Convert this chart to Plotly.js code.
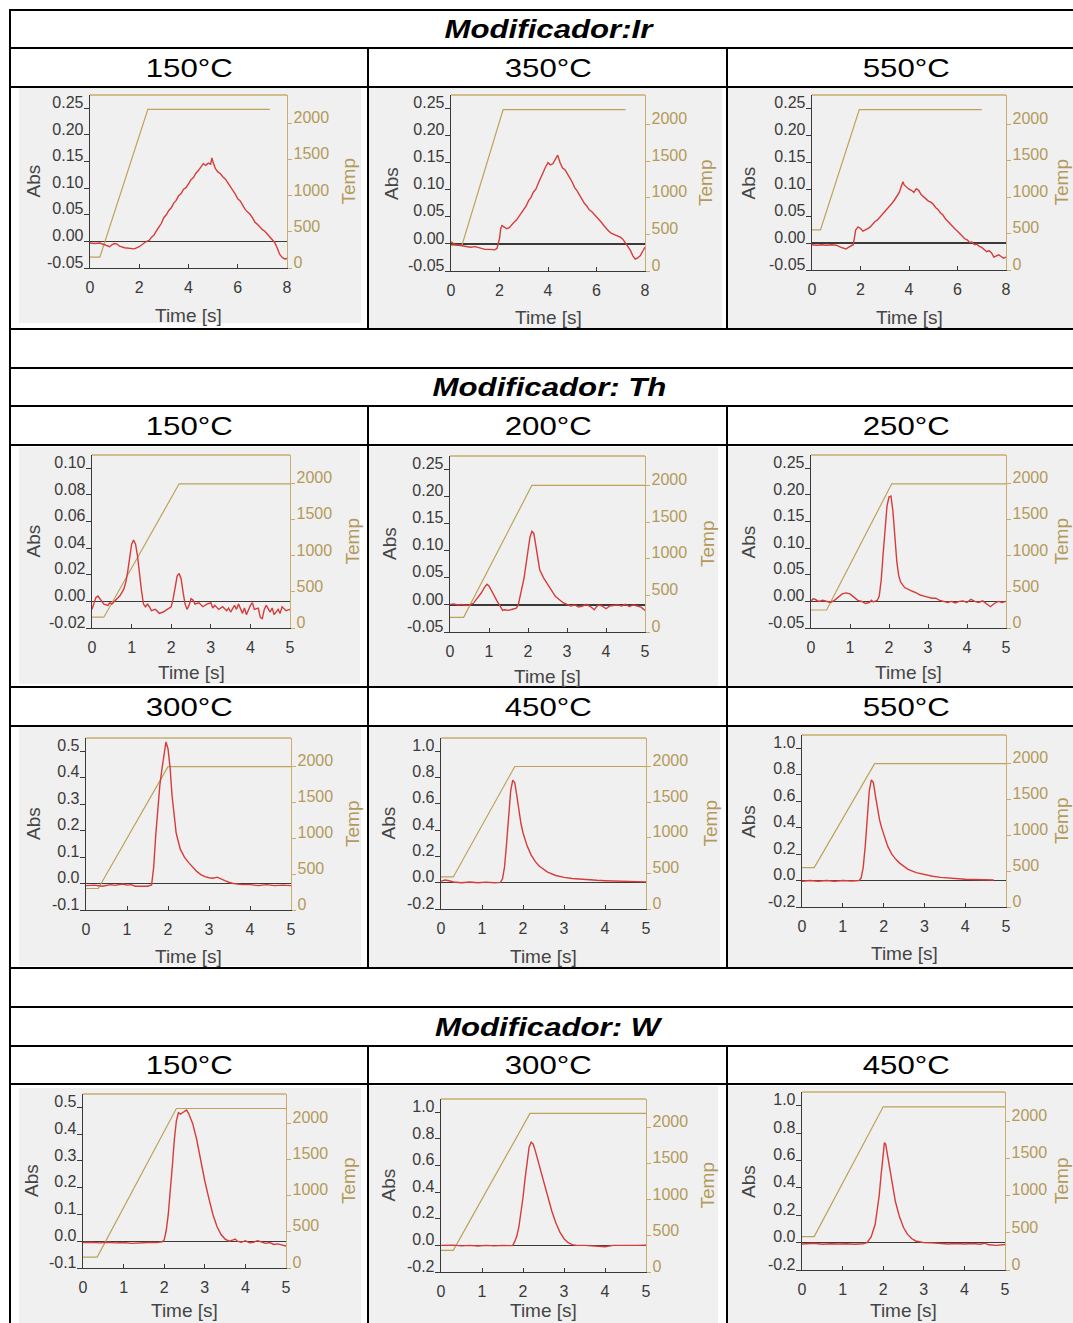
<!DOCTYPE html>
<html>
<head>
<meta charset="utf-8">
<script src="https://cdn.plot.ly/plotly-3.0.1.min.js"></script>
<style>
  html, body { margin: 0; padding: 0; background: #ffffff; }
  #chart { width: 1073px; height: 1323px; }
</style>
</head>
<body>
<div id="chart"></div>
<script>
// ---------- Absorbance signals (time in s, absorbance) ----------
// Modificador: Ir
const IR150_TIME = [0,0.2,0.4,0.6,0.8,0.9,1.0,1.1,1.2,1.4,1.6,1.8,2.0,2.1,2.2,2.3,2.4,2.5,2.6,2.7,2.8,2.9,3.0,3.1,3.2,3.3,3.4,3.5,3.6,3.7,3.8,3.9,4.0,4.1,4.2,4.3,4.4,4.5,4.6,4.7,4.8,4.9,4.95,5.0,5.1,5.2,5.3,5.4,5.5,5.6,5.7,5.8,5.9,6.0,6.1,6.2,6.3,6.4,6.5,6.6,6.7,6.8,6.9,7.0,7.1,7.2,7.3,7.4,7.5,7.6,7.7,7.8,7.9,8.0];
const IR150_ABS = [-0.003,-0.004,-0.003,-0.006,-0.010,-0.006,-0.004,-0.005,-0.009,-0.012,-0.013,-0.014,-0.010,-0.006,-0.003,0.000,0.002,0.008,0.012,0.020,0.028,0.034,0.045,0.050,0.058,0.063,0.072,0.077,0.086,0.090,0.098,0.101,0.108,0.116,0.120,0.128,0.133,0.140,0.146,0.143,0.147,0.145,0.157,0.148,0.136,0.130,0.127,0.121,0.117,0.110,0.104,0.096,0.089,0.080,0.076,0.068,0.060,0.055,0.051,0.044,0.036,0.032,0.026,0.022,0.019,0.014,0.008,0.004,-0.002,-0.012,-0.024,-0.030,-0.033,-0.032];
const IR350_TIME = [0,0.2,0.4,0.6,0.8,1.0,1.2,1.4,1.6,1.8,1.9,2.0,2.05,2.1,2.2,2.3,2.4,2.5,2.6,2.7,2.8,2.9,3.0,3.1,3.2,3.3,3.4,3.5,3.6,3.7,3.8,3.9,4.0,4.1,4.2,4.3,4.4,4.5,4.6,4.7,4.8,4.9,5.0,5.1,5.2,5.3,5.4,5.5,5.6,5.7,5.8,5.9,6.0,6.1,6.2,6.3,6.4,6.5,6.6,6.7,6.8,6.9,7.0,7.1,7.2,7.3,7.4,7.5,7.6,7.7,7.8,7.9,8.0];
const IR350_ABS = [0.004,-0.002,-0.003,-0.004,-0.006,-0.005,-0.007,-0.010,-0.010,-0.011,-0.008,0.010,0.028,0.034,0.031,0.028,0.030,0.036,0.040,0.044,0.050,0.058,0.064,0.070,0.080,0.086,0.096,0.101,0.112,0.122,0.135,0.142,0.150,0.146,0.148,0.155,0.164,0.150,0.140,0.137,0.128,0.122,0.114,0.104,0.098,0.090,0.084,0.075,0.070,0.063,0.060,0.055,0.052,0.046,0.040,0.034,0.028,0.024,0.020,0.018,0.016,0.014,0.012,0.008,0.002,-0.004,-0.012,-0.022,-0.028,-0.026,-0.022,-0.014,-0.006];
const IR550_TIME = [0,0.2,0.4,0.6,0.8,1.0,1.2,1.3,1.4,1.5,1.6,1.7,1.75,1.8,1.9,2.0,2.1,2.2,2.3,2.4,2.5,2.6,2.7,2.8,2.9,3.0,3.1,3.2,3.3,3.4,3.5,3.6,3.7,3.75,3.8,3.9,4.0,4.1,4.2,4.3,4.4,4.5,4.6,4.7,4.8,4.9,5.0,5.1,5.2,5.3,5.4,5.5,5.6,5.7,5.8,5.9,6.0,6.1,6.2,6.3,6.4,6.5,6.6,6.7,6.8,6.9,7.0,7.1,7.2,7.3,7.4,7.5,7.6,7.7,7.8,7.85,7.9,8.0];
const IR550_ABS = [-0.003,-0.004,-0.003,-0.004,-0.003,-0.004,-0.008,-0.010,-0.011,-0.008,-0.006,-0.003,0.010,0.024,0.030,0.027,0.022,0.024,0.027,0.030,0.036,0.040,0.043,0.048,0.055,0.060,0.064,0.070,0.074,0.080,0.086,0.094,0.108,0.114,0.108,0.104,0.100,0.098,0.094,0.101,0.098,0.090,0.086,0.083,0.078,0.076,0.072,0.066,0.062,0.056,0.052,0.045,0.040,0.034,0.030,0.026,0.022,0.017,0.014,0.008,0.006,0.001,0.002,-0.003,-0.002,-0.006,-0.008,-0.012,-0.016,-0.014,-0.018,-0.026,-0.024,-0.022,-0.025,-0.026,-0.028,-0.026];

// Modificador: Th
const TH150_TIME = [0,0.05,0.1,0.15,0.2,0.3,0.4,0.45,0.5,0.6,0.7,0.8,0.85,0.9,0.95,1.0,1.05,1.1,1.15,1.2,1.25,1.3,1.35,1.4,1.45,1.5,1.6,1.7,1.8,1.9,2.0,2.05,2.1,2.15,2.2,2.25,2.3,2.35,2.4,2.45,2.5,2.55,2.6,2.7,2.8,2.9,3.0,3.05,3.1,3.2,3.3,3.4,3.45,3.5,3.6,3.65,3.7,3.8,3.85,3.9,4.0,4.05,4.1,4.2,4.25,4.3,4.35,4.4,4.5,4.55,4.6,4.7,4.75,4.8,4.9,5.0];
const TH150_ABS = [-0.006,-0.002,0.003,0.004,0.002,-0.002,-0.003,-0.001,-0.002,0.001,0.004,0.009,0.014,0.022,0.034,0.043,0.046,0.043,0.034,0.020,0.008,-0.002,-0.004,-0.002,-0.004,-0.007,-0.006,-0.009,-0.008,-0.006,-0.004,0.002,0.011,0.019,0.021,0.017,0.007,-0.002,-0.006,-0.003,0.002,0.001,-0.002,-0.001,-0.004,-0.002,-0.001,-0.005,-0.003,-0.006,-0.004,-0.007,-0.005,-0.008,-0.003,-0.006,-0.002,-0.009,-0.005,-0.010,-0.003,-0.001,-0.006,-0.005,-0.012,-0.013,-0.006,-0.003,-0.008,-0.005,-0.010,-0.006,-0.009,-0.004,-0.007,-0.006];
const TH200_TIME = [0,0.1,0.2,0.3,0.4,0.5,0.6,0.7,0.8,0.9,0.95,1.0,1.05,1.1,1.2,1.3,1.35,1.4,1.5,1.6,1.7,1.75,1.8,1.9,2.0,2.05,2.1,2.15,2.2,2.25,2.3,2.4,2.5,2.6,2.7,2.8,2.9,3.0,3.1,3.2,3.3,3.4,3.5,3.6,3.7,3.75,3.8,3.9,4.0,4.1,4.2,4.3,4.4,4.5,4.6,4.7,4.8,4.9,5.0];
const TH200_ABS = [0.001,0.002,0.0,0.001,-0.001,0.0,0.003,0.012,0.022,0.034,0.038,0.035,0.028,0.020,0.008,-0.004,-0.010,-0.009,-0.010,-0.008,-0.006,0.0,0.015,0.050,0.100,0.125,0.136,0.132,0.110,0.085,0.065,0.050,0.038,0.026,0.016,0.010,0.004,0.001,-0.002,0.0,-0.004,-0.002,0.001,-0.003,-0.009,-0.004,0.0,-0.002,-0.007,-0.002,-0.001,0.0,-0.002,0.001,-0.003,0.0,-0.002,-0.004,-0.010];
const TH250_TIME = [0,0.05,0.1,0.2,0.3,0.4,0.5,0.6,0.7,0.8,0.9,1.0,1.1,1.2,1.3,1.4,1.5,1.55,1.6,1.7,1.75,1.8,1.85,1.9,1.95,2.0,2.05,2.1,2.15,2.2,2.25,2.3,2.4,2.5,2.6,2.7,2.8,2.9,3.0,3.1,3.2,3.3,3.4,3.5,3.6,3.7,3.8,3.9,4.0,4.1,4.2,4.3,4.4,4.5,4.6,4.7,4.8,4.9,5.0];
const TH250_ABS = [0.0,0.005,0.004,0.0,0.002,0.0,-0.002,0.002,0.008,0.014,0.016,0.014,0.008,0.002,0.0,-0.004,-0.002,0.002,-0.001,0.002,0.010,0.040,0.090,0.140,0.180,0.196,0.198,0.170,0.120,0.075,0.048,0.036,0.026,0.022,0.019,0.016,0.012,0.010,0.008,0.006,0.006,0.002,0.0,-0.002,0.0,-0.003,0.0,0.001,-0.002,0.004,0.0,-0.002,0.001,-0.004,-0.010,-0.004,0.0,-0.002,0.0];
const TH300_TIME = [0,0.2,0.4,0.5,0.6,0.7,0.8,0.9,1.0,1.1,1.2,1.3,1.4,1.5,1.6,1.65,1.7,1.75,1.8,1.85,1.9,1.95,2.0,2.05,2.1,2.15,2.2,2.3,2.4,2.5,2.6,2.7,2.8,2.9,3.0,3.1,3.2,3.3,3.4,3.5,3.6,3.8,4.0,4.2,4.4,4.6,4.8,5.0];
const TH300_ABS = [-0.008,-0.006,-0.010,-0.006,-0.004,-0.007,-0.005,-0.002,-0.006,-0.004,-0.010,-0.010,-0.009,-0.010,-0.005,0.060,0.180,0.290,0.370,0.430,0.490,0.535,0.510,0.440,0.330,0.250,0.190,0.130,0.100,0.080,0.062,0.046,0.034,0.026,0.022,0.020,0.024,0.016,0.010,0.004,0.000,-0.004,-0.004,-0.008,-0.004,-0.008,-0.006,-0.008];
const TH450_TIME = [0,0.1,0.2,0.3,0.5,0.7,0.9,1.1,1.3,1.45,1.5,1.55,1.6,1.65,1.7,1.75,1.8,1.85,1.9,1.95,2.0,2.1,2.2,2.3,2.4,2.5,2.6,2.8,3.0,3.2,3.4,3.6,3.8,4.0,4.2,4.4,4.6,4.8,5.0];
const TH450_ABS = [0.012,0.020,0.015,0.005,0.000,0.005,0.000,0.004,0.000,0.002,0.030,0.120,0.300,0.520,0.700,0.780,0.760,0.660,0.540,0.450,0.380,0.280,0.210,0.160,0.125,0.100,0.080,0.055,0.040,0.032,0.026,0.022,0.018,0.015,0.012,0.010,0.008,0.008,0.006];
const TH550_TIME = [0,0.2,0.4,0.6,0.8,1.0,1.2,1.4,1.45,1.5,1.55,1.6,1.65,1.7,1.75,1.8,1.85,1.9,1.95,2.0,2.1,2.2,2.3,2.4,2.5,2.6,2.8,3.0,3.2,3.4,3.6,3.8,4.0,4.2,4.4,4.7];
const TH550_ABS = [-0.005,0.000,-0.005,0.000,-0.005,0.000,-0.004,0.000,0.020,0.100,0.260,0.480,0.680,0.760,0.740,0.640,0.540,0.460,0.400,0.350,0.260,0.200,0.160,0.130,0.105,0.085,0.060,0.045,0.032,0.024,0.018,0.014,0.010,0.008,0.005,0.004];

// Modificador: W
const W150_TIME = [0,0.2,0.4,0.6,0.8,1.0,1.2,1.4,1.6,1.8,1.95,2.0,2.05,2.1,2.15,2.2,2.25,2.3,2.35,2.4,2.45,2.5,2.55,2.6,2.7,2.8,2.9,3.0,3.1,3.2,3.3,3.4,3.5,3.6,3.7,3.75,3.8,3.9,4.0,4.1,4.2,4.3,4.4,4.5,4.6,4.7,4.8,4.9,5.0];
const W150_ABS = [-0.005,-0.004,-0.006,-0.004,-0.006,-0.005,-0.008,-0.006,-0.005,-0.005,-0.002,0.005,0.040,0.100,0.180,0.280,0.380,0.450,0.480,0.475,0.480,0.485,0.490,0.478,0.440,0.380,0.300,0.225,0.160,0.100,0.055,0.025,0.008,0.000,0.005,0.008,0.000,-0.004,0.002,-0.006,-0.004,0.002,-0.003,-0.008,-0.005,-0.012,-0.010,-0.015,-0.018];
const W300_TIME = [0,0.3,0.5,0.7,0.9,1.1,1.3,1.5,1.7,1.75,1.8,1.85,1.9,1.95,2.0,2.05,2.1,2.15,2.2,2.25,2.3,2.4,2.5,2.6,2.7,2.8,2.9,3.0,3.1,3.2,3.3,3.5,3.7,4.0,4.2,4.5,4.8,5.0];
const W300_ABS = [0.000,0.002,-0.004,0.000,-0.005,0.000,-0.004,0.000,-0.002,0.000,0.030,0.070,0.140,0.240,0.360,0.500,0.640,0.740,0.775,0.760,0.710,0.600,0.470,0.360,0.260,0.170,0.100,0.050,0.020,0.006,0.000,0.000,-0.004,-0.010,0.000,-0.002,0.000,0.002];
const W450_TIME = [0,0.3,0.5,0.7,0.9,1.1,1.3,1.5,1.6,1.7,1.8,1.85,1.9,1.95,2.0,2.03,2.06,2.1,2.15,2.2,2.3,2.4,2.5,2.6,2.7,2.8,2.9,3.0,3.2,3.4,3.6,3.8,4.0,4.2,4.4,4.5,4.6,4.8,5.0];
const W450_ABS = [-0.010,-0.005,-0.012,-0.008,-0.010,-0.008,-0.012,-0.008,0.000,0.040,0.130,0.220,0.340,0.500,0.660,0.730,0.720,0.650,0.550,0.450,0.300,0.190,0.110,0.060,0.030,0.012,0.004,0.000,-0.002,-0.008,-0.010,-0.006,-0.010,-0.006,-0.012,-0.004,-0.016,-0.020,-0.014];

// ---------- Furnace temperature programs (time in s, °C) ----------
const IR150_PROG_TIME = [0, 0.4, 2.35, 7.3];  const IR150_PROG_TEMP = [150, 150, 2200, 2200];
const IR350_PROG_TIME = [0, 0.45, 2.15, 7.2]; const IR350_PROG_TEMP = [350, 350, 2200, 2200];
const IR550_PROG_TIME = [0, 0.35, 1.95, 7.0]; const IR550_PROG_TEMP = [550, 550, 2200, 2200];
const TH150_PROG_TIME = [0, 0.3, 2.2, 5];     const TH150_PROG_TEMP = [150, 150, 2000, 2000];
const TH200_PROG_TIME = [0, 0.35, 2.1, 5];    const TH200_PROG_TEMP = [200, 200, 2000, 2000];
const TH250_PROG_TIME = [0, 0.4, 2.07, 5];    const TH250_PROG_TEMP = [250, 250, 2000, 2000];
const TH300_PROG_TIME = [0, 0.3, 2.0, 5];     const TH300_PROG_TEMP = [300, 300, 2000, 2000];
const TH450_PROG_TIME = [0, 0.3, 1.8, 5];     const TH450_PROG_TEMP = [450, 450, 2000, 2000];
const TH550_PROG_TIME = [0, 0.3, 1.78, 5];    const TH550_PROG_TEMP = [550, 550, 2000, 2000];
const W150_PROG_TIME = [0, 0.35, 2.3, 5];     const W150_PROG_TEMP = [150, 150, 2200, 2200];
const W300_PROG_TIME = [0, 0.3, 2.17, 5];     const W300_PROG_TEMP = [300, 300, 2200, 2200];
const W450_PROG_TIME = [0, 0.3, 2.0, 5];      const W450_PROG_TEMP = [450, 450, 2200, 2200];

// ---------- Tick values and labels ----------
const TIME_TICKS_8 = [0, 2, 4, 6, 8];
const TIME_TICKS_5 = [0, 1, 2, 3, 4, 5];
const TEMP_TICKS = [0, 500, 1000, 1500, 2000];
const TEMP_TEXT = ['0', '500', '1000', '1500', '2000'];
const ABS_TICKS_025 = [-0.05, 0, 0.05, 0.10, 0.15, 0.20, 0.25];
const ABS_TEXT_025 = ['-0.05', '0.00', '0.05', '0.10', '0.15', '0.20', '0.25'];
const ABS_TICKS_010 = [-0.02, 0, 0.02, 0.04, 0.06, 0.08, 0.10];
const ABS_TEXT_010 = ['-0.02', '0.00', '0.02', '0.04', '0.06', '0.08', '0.10'];
const ABS_TICKS_05 = [-0.1, 0, 0.1, 0.2, 0.3, 0.4, 0.5];
const ABS_TEXT_05 = ['-0.1', '0.0', '0.1', '0.2', '0.3', '0.4', '0.5'];
const ABS_TICKS_10 = [-0.2, 0, 0.2, 0.4, 0.6, 0.8, 1.0];
const ABS_TEXT_10 = ['-0.2', '0.0', '0.2', '0.4', '0.6', '0.8', '1.0'];

// ---------- Table text ----------
const GROUP_TITLES = ['Modificador:Ir', 'Modificador: Th', 'Modificador: W'];
const COLUMN_HEADERS = ['150°C', '350°C', '550°C', '150°C', '200°C', '250°C', '300°C', '450°C', '550°C', '150°C', '300°C', '450°C'];
const X_TITLE = 'Time [s]';
const Y_TITLE = 'Abs';
const Y2_TITLE = 'Temp';

// ---------- Page geometry (pixels) ----------
const W = 1073, H = 1323;
const fx = p => p / W;
const fy = p => 1 - p / H;

const FONT = 'Liberation Sans, Arial, Helvetica, sans-serif';
const RED = '#d63c3a';
const TEMP_LINE = '#bca25a';
const TAN = '#c8ad6c';
const TAN_TEXT = '#b39a5a';
const DARK = '#3a3a3a';
const IMG_BG = '#f0f0f0';

// Each panel: signal, program, ticks, frame [left, right, top, bottom],
// grey picture area [x0, y0, x1, y1] and the positions of its axis titles.
const panels = [
  {t: IR150_TIME, a: IR150_ABS, pt: IR150_PROG_TIME, py: IR150_PROG_TEMP, xt: TIME_TICKS_8, yt: ABS_TICKS_025, ys: ABS_TEXT_025, box: [90, 287, 95, 268],   img: [19, 88, 361, 323],    absX: 33,  tempX: 348,  timeY: 315},
  {t: IR350_TIME, a: IR350_ABS, pt: IR350_PROG_TIME, py: IR350_PROG_TEMP, xt: TIME_TICKS_8, yt: ABS_TICKS_025, ys: ABS_TEXT_025, box: [451, 645, 95, 271],  img: [369, 88, 722, 328],   absX: 392, tempX: 706,  timeY: 318},
  {t: IR550_TIME, a: IR550_ABS, pt: IR550_PROG_TIME, py: IR550_PROG_TEMP, xt: TIME_TICKS_8, yt: ABS_TICKS_025, ys: ABS_TEXT_025, box: [812, 1006, 95, 270], img: [728, 88, 1073, 328],  absX: 748, tempX: 1061, timeY: 318},
  {t: TH150_TIME, a: TH150_ABS, pt: TH150_PROG_TIME, py: TH150_PROG_TEMP, xt: TIME_TICKS_5, yt: ABS_TICKS_010, ys: ABS_TEXT_010, box: [92, 290, 455, 628],   img: [19, 447, 360, 684],   absX: 33,  tempX: 352,  timeY: 673},
  {t: TH200_TIME, a: TH200_ABS, pt: TH200_PROG_TIME, py: TH200_PROG_TEMP, xt: TIME_TICKS_5, yt: ABS_TICKS_025, ys: ABS_TEXT_025, box: [450, 645, 456, 632],  img: [369, 447, 718, 686],  absX: 389, tempX: 707,  timeY: 676},
  {t: TH250_TIME, a: TH250_ABS, pt: TH250_PROG_TIME, py: TH250_PROG_TEMP, xt: TIME_TICKS_5, yt: ABS_TICKS_025, ys: ABS_TEXT_025, box: [811, 1006, 455, 628], img: [728, 447, 1073, 686], absX: 748, tempX: 1061, timeY: 673},
  {t: TH300_TIME, a: TH300_ABS, pt: TH300_PROG_TIME, py: TH300_PROG_TEMP, xt: TIME_TICKS_5, yt: ABS_TICKS_05,  ys: ABS_TEXT_05,  box: [86, 291, 738, 910],   img: [19, 727, 361, 966],   absX: 33,  tempX: 352,  timeY: 956},
  {t: TH450_TIME, a: TH450_ABS, pt: TH450_PROG_TIME, py: TH450_PROG_TEMP, xt: TIME_TICKS_5, yt: ABS_TICKS_10,  ys: ABS_TEXT_10,  box: [441, 646, 738, 909],  img: [369, 727, 720, 967],  absX: 388, tempX: 710,  timeY: 956},
  {t: TH550_TIME, a: TH550_ABS, pt: TH550_PROG_TIME, py: TH550_PROG_TEMP, xt: TIME_TICKS_5, yt: ABS_TICKS_10,  ys: ABS_TEXT_10,  box: [802, 1006, 735, 907], img: [728, 727, 1073, 967], absX: 748, tempX: 1061, timeY: 953},
  {t: W150_TIME,  a: W150_ABS,  pt: W150_PROG_TIME,  py: W150_PROG_TEMP,  xt: TIME_TICKS_5, yt: ABS_TICKS_05,  ys: ABS_TEXT_05,  box: [83, 286, 1094, 1268], img: [19, 1088, 361, 1323], absX: 31,  tempX: 348,  timeY: 1310},
  {t: W300_TIME,  a: W300_ABS,  pt: W300_PROG_TIME,  py: W300_PROG_TEMP,  xt: TIME_TICKS_5, yt: ABS_TICKS_10,  ys: ABS_TEXT_10,  box: [441, 646, 1099, 1272], img: [369, 1086, 718, 1323], absX: 388, tempX: 707,  timeY: 1310},
  {t: W450_TIME,  a: W450_ABS,  pt: W450_PROG_TIME,  py: W450_PROG_TEMP,  xt: TIME_TICKS_5, yt: ABS_TICKS_10,  ys: ABS_TEXT_10,  box: [802, 1005, 1092, 1270], img: [728, 1086, 1073, 1323], absX: 748, tempX: 1061, timeY: 1310}
];

// Table rules: full-width horizontal lines and the column dividers
const H_RULES = [10, 48, 87, 329, 368, 406, 445, 687, 726, 968, 1007, 1046, 1084];
const COL_X = [368, 727];
const COL_SPANS = [[48, 329], [406, 968], [1046, 1323]];
const TITLE_Y = [29, 387, 1027];
const HEADER_Y = [68, 68, 68, 426, 426, 426, 707, 707, 707, 1065, 1065, 1065];
const HEADER_X = [189, 548, 906];

const data = [];
const shapes = [];
const annotations = [];
const layout = {
  width: W, height: H,
  margin: {l: 0, r: 0, t: 0, b: 0, pad: 0},
  paper_bgcolor: '#ffffff',
  plot_bgcolor: 'rgba(0,0,0,0)',
  showlegend: false,
  font: {family: FONT, color: DARK}
};

panels.forEach((p, i) => {
  const k = i + 1;
  const xid = k === 1 ? 'x' : 'x' + k;
  const nTemp = 2 * k - 1, nAbs = 2 * k;
  const tempId = nTemp === 1 ? 'y' : 'y' + nTemp;
  const absId = 'y' + nAbs;
  const [L, R, T, B] = p.box;
  const step = p.yt[1] - p.yt[0];
  const absRange = [p.yt[0], p.yt[p.yt.length - 1] + step / 2];

  // grey picture area behind the panel
  shapes.push({type: 'rect', xref: 'paper', yref: 'paper', layer: 'below',
    x0: fx(p.img[0]), x1: fx(p.img[2]), y0: fy(p.img[3]), y1: fy(p.img[1]),
    fillcolor: IMG_BG, line: {width: 0}});
  // top edge of the frame
  shapes.push({type: 'line', xref: 'paper', yref: 'paper', layer: 'below',
    x0: fx(L), x1: fx(R), y0: fy(T), y1: fy(T), line: {color: TAN, width: 1.3}});

  layout['xaxis' + (k === 1 ? '' : k)] = {
    domain: [fx(L), fx(R)], anchor: tempId,
    range: [p.xt[0], p.xt[p.xt.length - 1]],
    tickvals: p.xt, ticktext: p.xt.map(String),
    ticks: 'inside', ticklen: 4, tickcolor: DARK, tickwidth: 1,
    showline: true, linecolor: DARK, linewidth: 1.3,
    showgrid: false, zeroline: false, fixedrange: true,
    ticklabelstandoff: 4,
    tickfont: {family: FONT, size: 16, color: DARK}
  };
  layout['yaxis' + (nTemp === 1 ? '' : nTemp)] = {
    domain: [fy(B), fy(T)], anchor: xid, side: 'right',
    range: [0, 2400],
    tickvals: TEMP_TICKS, ticktext: TEMP_TEXT,
    ticks: 'outside', ticklen: 4, tickcolor: TAN, tickwidth: 1,
    showline: true, linecolor: TAN, linewidth: 1.3,
    showgrid: false, zeroline: false, fixedrange: true,
    ticklabelshift: -6, ticklabelstandoff: -2,
    tickfont: {family: FONT, size: 16, color: TAN_TEXT}
  };
  layout['yaxis' + nAbs] = {
    overlaying: tempId, anchor: xid, side: 'left',
    range: absRange,
    tickvals: p.yt, ticktext: p.ys,
    ticks: 'outside', ticklen: 5, tickcolor: DARK, tickwidth: 1,
    showline: true, linecolor: DARK, linewidth: 1.3,
    showgrid: false, zeroline: true, zerolinecolor: DARK, zerolinewidth: 1.4,
    fixedrange: true,
    ticklabelshift: -6, ticklabelstandoff: -3,
    tickfont: {family: FONT, size: 16, color: DARK}
  };

  data.push({x: p.pt, y: p.py, xaxis: xid, yaxis: tempId, type: 'scatter', mode: 'lines',
    line: {color: TEMP_LINE, width: 1.2}, hoverinfo: 'skip'});
  data.push({x: p.t, y: p.a, xaxis: xid, yaxis: absId, type: 'scatter', mode: 'lines',
    line: {color: RED, width: 1.4}, hoverinfo: 'skip'});

  const midY = (T + B) / 2;
  annotations.push({xref: 'paper', yref: 'paper', x: fx(p.absX), y: fy(midY), text: Y_TITLE,
    showarrow: false, textangle: -90, xanchor: 'center', yanchor: 'middle',
    font: {family: FONT, size: 19, color: '#454545'}});
  annotations.push({xref: 'paper', yref: 'paper', x: fx(p.tempX), y: fy(midY), text: Y2_TITLE,
    showarrow: false, textangle: -90, xanchor: 'center', yanchor: 'middle',
    font: {family: FONT, size: 19, color: TAN_TEXT}});
  annotations.push({xref: 'paper', yref: 'paper', x: fx((L + R) / 2), y: fy(p.timeY), text: X_TITLE,
    showarrow: false, xanchor: 'center', yanchor: 'middle',
    font: {family: FONT, size: 19, color: '#454545'}});
});

// table rules
H_RULES.forEach(y => shapes.push({type: 'line', xref: 'paper', yref: 'paper', layer: 'above',
  x0: fx(9), x1: fx(1073), y0: fy(y), y1: fy(y), line: {color: '#000000', width: 2}}));
shapes.push({type: 'line', xref: 'paper', yref: 'paper', layer: 'above',
  x0: fx(10), x1: fx(10), y0: fy(9), y1: fy(1323), line: {color: '#000000', width: 2}});
COL_X.forEach(x => COL_SPANS.forEach(([a, b]) => shapes.push({type: 'line', xref: 'paper', yref: 'paper', layer: 'above',
  x0: fx(x), x1: fx(x), y0: fy(a), y1: fy(b), line: {color: '#000000', width: 2}})));

// group titles and column headers (stretched horizontally after drawing)
const stretched = [];
GROUP_TITLES.forEach((txt, g) => {
  stretched.push(annotations.length);
  annotations.push({xref: 'paper', yref: 'paper', x: fx(549), y: fy(TITLE_Y[g]), text: txt,
    showarrow: false, xanchor: 'center', yanchor: 'middle',
    font: {family: FONT, size: 26, color: '#000000', weight: 'bold', style: 'italic'}});
});
COLUMN_HEADERS.forEach((txt, j) => {
  stretched.push(annotations.length);
  annotations.push({xref: 'paper', yref: 'paper', x: fx(HEADER_X[j % 3]), y: fy(HEADER_Y[j]), text: txt,
    showarrow: false, xanchor: 'center', yanchor: 'middle',
    font: {family: FONT, size: 26, color: '#000000'}});
});

layout.shapes = shapes;
layout.annotations = annotations;

Plotly.newPlot('chart', data, layout, {staticPlot: true, displayModeBar: false}).then(gd => {
  const wide = new Set(stretched);
  gd.querySelectorAll('g.annotation').forEach(g => {
    if (!wide.has(+g.getAttribute('data-index'))) return;
    const t = g.querySelector('text.annotation-text');
    if (!t) return;
    const b = t.getBBox();
    const cx = b.x + b.width / 2;
    t.setAttribute('transform', 'translate(' + cx + ' 0) scale(1.2 1) translate(' + (-cx) + ' 0)');
  });
});
</script>
</body>
</html>
